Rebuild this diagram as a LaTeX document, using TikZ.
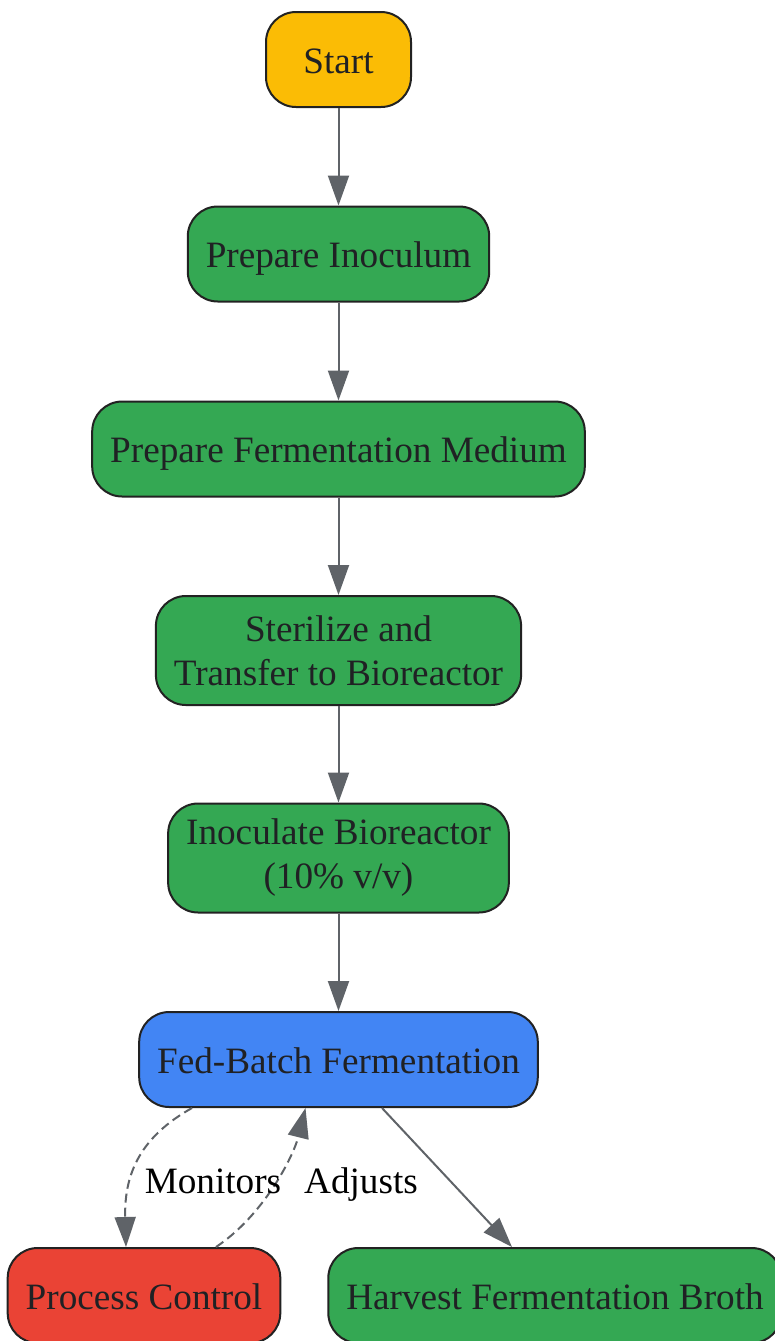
\documentclass[tikz,border=0pt]{standalone}
\usepackage{fontspec}
\setmainfont{Liberation Serif}
\usetikzlibrary{arrows.meta}
\definecolor{startyellow}{HTML}{FBBC05}
\definecolor{stepgreen}{HTML}{34A853}
\definecolor{fedblue}{HTML}{4285F4}
\definecolor{ctrlred}{HTML}{EA4335}
\definecolor{edgegray}{HTML}{5F6368}
\definecolor{textdark}{HTML}{202124}
\definecolor{borderdark}{HTML}{222222}
\begin{document}
\begin{tikzpicture}[x=0.5pt,y=-0.5pt,
  box/.style={draw=borderdark,line width=1pt,rounded corners=15pt,text=textdark,
    font=\fontsize{18.6}{22}\selectfont,align=center,inner xsep=9pt,inner ysep=0pt,
    minimum height=47.5pt},
  oneline/.style={box,text height=17pt,text depth=3.5pt},
  tall/.style={box,minimum height=54.5pt},
  flow/.style={draw=edgegray,line width=1pt,-{Triangle[width=10.5pt,length=15pt]}},
  ctrledge/.style={flow,dash pattern=on 4.5pt off 2.5pt},
  lbl/.style={font=\fontsize{18.6}{22}\selectfont,text=black,inner sep=1pt,
    text height=17pt,text depth=3.5pt}]
  \useasboundingbox (0,0) rectangle (775,1341);
  % main line
  \node[oneline,fill=startyellow,minimum width=72.5pt] (start) at (338.5,59.5) {Start};
  \node[oneline,fill=stepgreen] (inoc) at (338.5,254) {Prepare Inoculum};
  \node[oneline,fill=stepgreen] (medium) at (338.5,449) {Prepare Fermentation Medium};
  \node[tall,fill=stepgreen] (steril) at (338.5,650.5) {Sterilize and\\Transfer to Bioreactor};
  \node[tall,fill=stepgreen] (inocbio) at (338.5,858) {Inoculate Bioreactor\\(10\% v/v)};
  \node[oneline,fill=fedblue] (fedbatch) at (338.5,1059.5) {Fed-Batch Fermentation};
  \node[oneline,fill=ctrlred] (control) at (144,1295.5) {Process Control};
  \node[oneline,fill=stepgreen] (harvest) at (555,1295.5) {Harvest Fermentation Broth};
  \draw[flow] (start) -- (inoc);
  \draw[flow] (inoc) -- (medium);
  \draw[flow] (medium) -- (steril);
  \draw[flow] (steril) -- (inocbio);
  \draw[flow] (inocbio) -- (fedbatch);
  \draw[flow] ([xshift=21.75pt]fedbatch.south) -- ([xshift=-21.5pt]harvest.north);
  % control loop
  \draw[ctrledge] ([xshift=-73.25pt]fedbatch.south) .. controls +(-50,28) and +(-2,-75) .. ([xshift=-9pt]control.north);
  \draw[ctrledge] ([xshift=36pt]control.north) .. controls +(48,-32) and +(-12,48) .. ([xshift=-16.5pt]fedbatch.south);
  \node[lbl] (monlbl) at (213,1180) {Monitors};
  \node[lbl] (adjlbl) at (361,1180) {Adjusts};
\end{tikzpicture}
\end{document}
